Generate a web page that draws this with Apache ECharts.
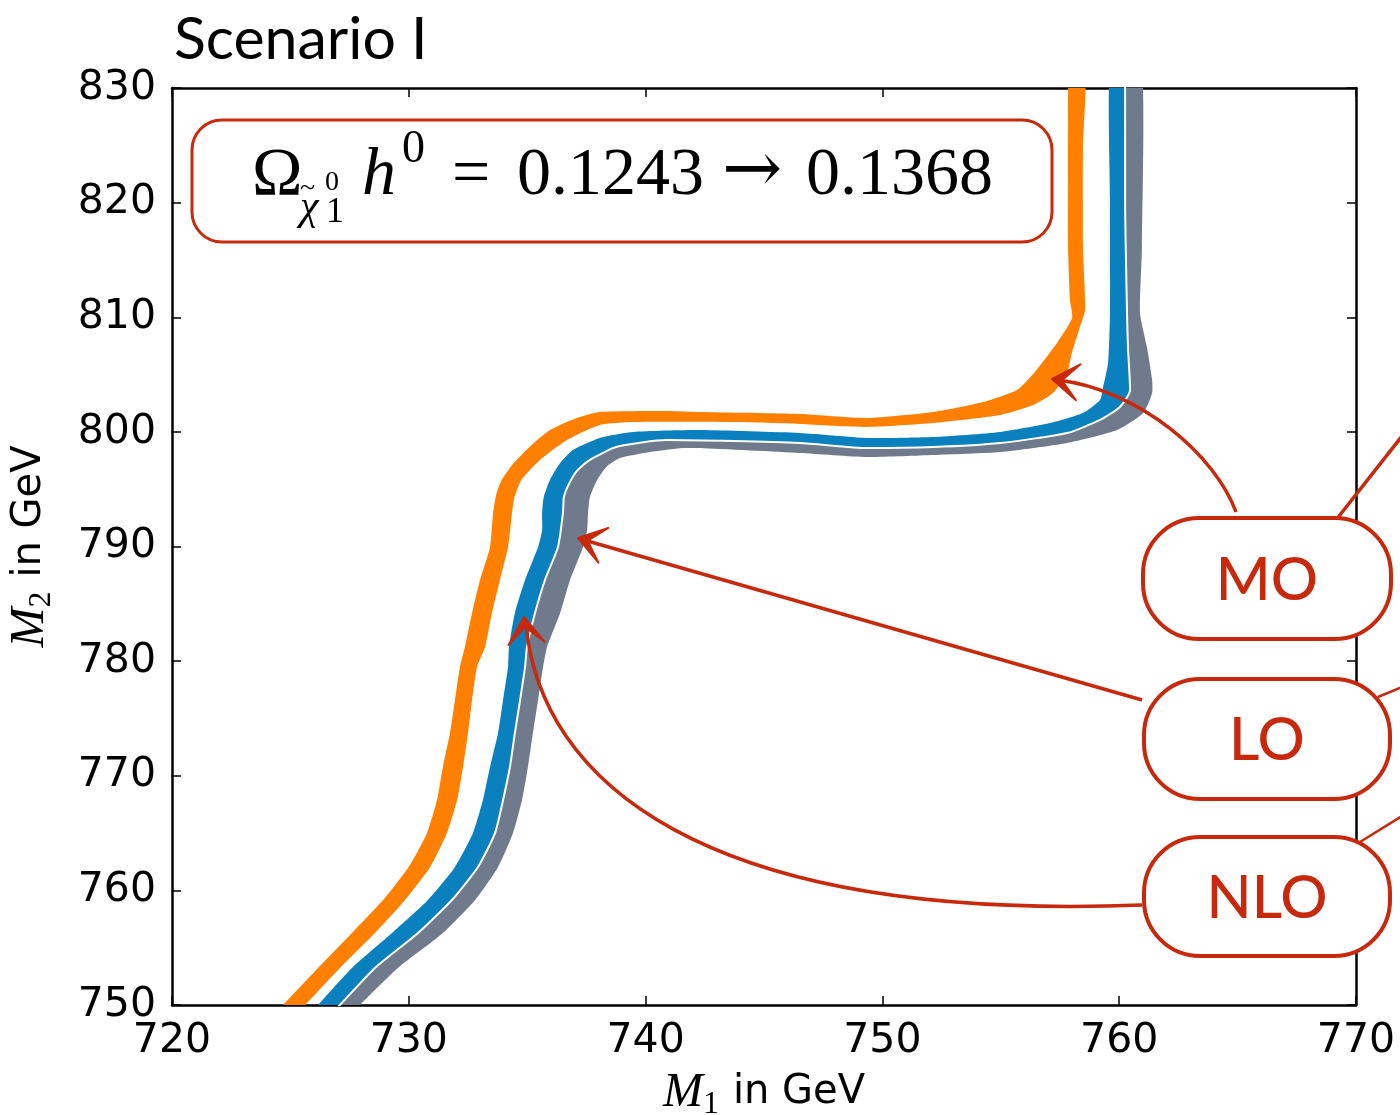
<!DOCTYPE html>
<html>
  <head>
    <meta charset="utf-8" />
    <script src="https://cdn.jsdelivr.net/npm/echarts@6/dist/echarts.min.js"></script>
  </head>
  <body style="margin: 0; background: #fff">
    <div id="container" style="width: 1400px; height: 1115px"></div>
    <script type="text/javascript">
      // band edges, [M1, M2] in GeV
      var moOuter = [
        [723.8, 748], [724.69, 750], [726.17, 753.23], [727.6, 756.28], [728.99, 759.33],
        [730.05, 762.21], [730.77, 765.0], [731.19, 767.88], [731.44, 770.76], [731.74, 773.73],
        [731.95, 776.61], [732.16, 779.49], [732.37, 781.23], [732.67, 784.2], [733.01, 787.08],
        [733.43, 789.96], [733.56, 792.92], [733.7, 794.6], [733.95, 795.9], [734.4, 797.2],
        [735.05, 798.6], [735.96, 800.16], [737.1, 801.21], [738.07, 801.73], [740.9, 801.82],
        [742.3, 801.73], [746.52, 801.56], [749.35, 801.21], [752.14, 801.73], [754.25, 802.6],
        [755.68, 803.65], [756.44, 805.22], [757.37, 807.75], [758.01, 809.93], [757.92, 811.5],
        [757.84, 816.13], [757.84, 821.97], [757.84, 826.33], [757.92, 832]
      ];
      var moInner = [
        [724.7, 748], [725.62, 750], [727.09, 753.23], [728.57, 756.28], [729.84, 759.16],
        [730.9, 762.04], [731.61, 765.0], [732.04, 767.88], [732.29, 770.76], [732.5, 773.73],
        [732.67, 776.61], [732.88, 779.49], [733.22, 781.23], [733.51, 784.2], [733.85, 787.08],
        [734.19, 789.96], [734.36, 792.92], [734.45, 794.2], [734.75, 795.8], [735.54, 797.55],
        [736.68, 799.29], [738.07, 800.6], [739.47, 800.86], [743.69, 800.86], [746.52, 800.69],
        [749.35, 800.43], [752.14, 800.77], [754.97, 801.47], [756.36, 802.34], [757.2, 803.39],
        [757.8, 805.14], [758.0, 806.88], [758.34, 809.15], [758.56, 810.63], [758.47, 816.13],
        [758.47, 824.85], [758.56, 832]
      ];
      var loOuter = [
        [725.3, 748], [726.17, 750], [727.6, 753.23], [729.29, 756.28], [730.81, 759.16],
        [731.95, 762.04], [732.71, 765.0], [733.13, 767.88], [733.43, 770.76], [733.77, 773.73],
        [733.98, 776.61], [734.19, 779.49], [734.23, 781.23], [734.48, 784.2], [734.91, 787.08],
        [735.46, 789.96], [735.63, 791.44], [735.63, 792.92], [735.7, 794.32], [735.96, 795.8],
        [736.39, 797.28], [736.93, 798.42], [738.07, 799.47], [739.47, 799.99], [742.3, 800.16],
        [746.52, 799.9], [749.35, 799.47], [752.14, 799.55], [754.97, 799.99], [757.08, 800.77],
        [758.47, 801.65], [759.19, 802.78], [759.32, 803.91], [759.53, 806.01], [759.61, 810.37],
        [759.61, 820.23], [759.61, 832]
      ];
      var loInner = [
        [726.1, 748], [727.09, 750], [728.57, 753.23], [730.39, 756.28], [731.82, 759.16],
        [732.92, 762.04], [733.64, 765.0], [733.98, 767.88], [734.27, 770.76], [734.48, 773.73],
        [734.7, 776.61], [734.91, 779.49], [734.99, 781.23], [735.33, 784.2], [735.75, 787.08],
        [736.3, 789.96], [736.51, 792.92], [736.55, 794.32], [736.75, 795.4], [737.1, 796.6],
        [737.6, 797.5], [738.79, 798.7], [740.9, 799.29], [746.52, 799.03], [749.35, 798.59],
        [752.14, 798.68], [754.97, 799.03], [757.8, 799.9], [759.19, 801.04], [760.03, 802.17],
        [760.46, 803.65], [760.37, 807.4], [760.33, 810.37], [760.25, 820.23], [760.25, 832]
      ];
      var nloOuter = [
        [727.0, 748], [727.94, 750], [729.54, 753.23], [731.44, 756.28], [732.8, 759.16],
        [733.77, 762.04], [734.4, 765.0], [734.78, 767.88], [735.03, 770.76], [735.24, 773.73],
        [735.46, 776.61], [735.67, 779.49], [735.84, 781.23], [736.39, 784.2], [736.81, 787.08],
        [737.36, 789.96], [737.53, 791.44], [737.57, 792.92], [737.65, 794.32], [737.95, 795.8],
        [738.37, 797.0], [738.92, 797.72], [740.19, 798.24], [741.58, 798.59], [742.3, 798.59],
        [746.52, 798.16], [749.35, 797.81], [752.14, 797.98], [754.97, 798.24], [757.8, 799.03],
        [759.91, 800.16], [761.01, 801.65], [761.39, 803.39], [761.39, 804.52], [761.17, 807.4],
        [760.88, 810.37], [760.96, 816.13], [760.96, 832]
      ];
      var xTicks = [720, 730, 740, 750, 760, 770];
      var yTicks = [750, 760, 770, 780, 790, 800, 810, 820, 830];
      var labels = ["MO", "LO", "NLO"];
      var omegaFrom = "0.1243";
      var omegaTo = "0.1368";

      var red = "#c8290d";
      var sansFont = "DejaVu Sans";
      var gillFont = "Lato";
      var serif = "Liberation Serif";

      var dom = document.getElementById("container");
      var myChart = echarts.init(dom);

      function bandSeries(name, outer, inner, color) {
        var ring = outer.concat(inner.slice().reverse());
        return {
          type: "custom",
          name: name,
          clip: true,
          silent: true,
          data: ring,
          encode: { x: 0, y: 1 },
          renderItem: function (params, api) {
            if (params.dataIndex !== 0) return null;
            var pts = ring.map(function (p) {
              return api.coord(p);
            });
            return {
              type: "polygon",
              shape: { points: pts, smooth: 0.2 },
              style: { fill: color, stroke: null },
            };
          },
        };
      }

      function edgeSeries(name, edge, color, width) {
        return {
          type: "line",
          name: name,
          data: edge,
          symbol: "none",
          smooth: 0.2,
          silent: true,
          lineStyle: { color: color, width: width },
          z: 5,
        };
      }

      function arrowHead(tip, from) {
        var dx = tip[0] - from[0], dy = tip[1] - from[1];
        var len = Math.sqrt(dx * dx + dy * dy);
        var bx = -dx / len, by = -dy / len;
        function rot(a, l) {
          var c = Math.cos(a), s = Math.sin(a);
          return [tip[0] + (bx * c - by * s) * l, tip[1] + (bx * s + by * c) * l];
        }
        return {
          type: "polygon",
          z: 101,
          shape: { points: [tip, rot(0.6, 32), [tip[0] + bx * 10, tip[1] + by * 10], rot(-0.6, 32)] },
          style: { fill: red, stroke: red, lineWidth: 2, lineJoin: "round" },
        };
      }

      function pill(x, y, w, h, text) {
        return [
          {
            type: "rect",
            z: 102,
            shape: { x: x, y: y, width: w, height: h, r: 56 },
            style: { fill: "#fff", stroke: red, lineWidth: 4 },
          },
          {
            type: "text",
            z: 103,
            x: x + w / 2,
            y: y + h / 2 + 2,
            style: {
              text: text,
              fill: red,
              font: "500 59px " + gillFont,
              textAlign: "center",
              textVerticalAlign: "middle",
            },
          },
        ];
      }

      function formulaText(x, y, text, font) {
        return {
          type: "text",
          z: 101,
          x: x,
          y: y,
          style: { text: text, fill: "#000", font: font, textVerticalAlign: "middle" },
        };
      }

      var graphics = [
        {
          type: "text",
          left: 174,
          top: 10,
          style: { text: "Scenario I", fill: "#000", font: "59px " + gillFont },
        },
        {
          type: "rect",
          z: 100,
          shape: { x: 192, y: 120, width: 860, height: 122, r: 30 },
          style: { fill: "#fff", stroke: red, lineWidth: 3 },
        },
        formulaText(252, 176, "Ω", "68px " + serif),
        formulaText(300, 208, "χ", "italic 42px " + serif),
        formulaText(300, 189, "~", "28px " + serif),
        formulaText(325, 183, "0", "28px " + serif),
        formulaText(326, 213, "1", "36px " + serif),
        formulaText(362, 176, "h", "italic 68px " + serif),
        formulaText(402, 150, "0", "46px " + serif),
        formulaText(452, 176, "=", "68px " + serif),
        formulaText(517, 176, omegaFrom, "68px " + serif),
        formulaText(722, 173, "→", "72px DejaVu Serif"),
        formulaText(806, 176, omegaTo, "68px " + serif),
        // arrows
        {
          type: "bezierCurve",
          z: 101,
          shape: { x1: 1236, y1: 512, cpx1: 1215, cpy1: 455, cpx2: 1140, cpy2: 390, x2: 1058, y2: 380 },
          style: { stroke: red, lineWidth: 3.5, fill: null },
        },
        arrowHead([1052, 379], [1100, 385]),
        {
          type: "line",
          z: 101,
          shape: { x1: 1142, y1: 700, x2: 584, y2: 540 },
          style: { stroke: red, lineWidth: 3.5 },
        },
        arrowHead([578, 538], [700, 573]),
        {
          type: "bezierCurve",
          z: 101,
          shape: { x1: 1142, y1: 905, cpx1: 700, cpy1: 922, cpx2: 540, cpy2: 780, x2: 526, y2: 624 },
          style: { stroke: red, lineWidth: 3.5, fill: null },
        },
        arrowHead([524, 617], [530, 680]),
        { type: "line", z: 101, shape: { x1: 1336, y1: 520, x2: 1402, y2: 436 }, style: { stroke: red, lineWidth: 3.5 } },
        { type: "line", z: 101, shape: { x1: 1378, y1: 697, x2: 1402, y2: 687 }, style: { stroke: red, lineWidth: 2.5 } },
        { type: "line", z: 101, shape: { x1: 1360, y1: 842, x2: 1402, y2: 816 }, style: { stroke: red, lineWidth: 2.5 } },
      ];
      graphics = graphics
        .concat(pill(1143, 518, 248, 121, labels[0]))
        .concat(pill(1144, 679, 246, 120, labels[1]))
        .concat(pill(1144, 837, 246, 119, labels[2]));

      var axisLabel = { fontFamily: sansFont, fontSize: 41, color: "#000" };
      var nameRich = {
        m: { fontFamily: serif, fontStyle: "italic", fontSize: 48, color: "#000" },
        s: { fontFamily: serif, fontSize: 32, color: "#000", padding: [24, 0, 0, 0] },
        t: { fontFamily: sansFont, fontSize: 40, color: "#000", padding: [0, 0, 0, 14] },
      };
      var tick = { show: true, inside: true, length: 9, lineStyle: { color: "#000", width: 1.5 } };
      var frame = { show: true, lineStyle: { color: "#000", width: 2.5 } };

      var option = {
        animation: false,
        backgroundColor: "#fff",
        grid: { left: 172, top: 88, right: 44, bottom: 110, containLabel: false, outerBoundsMode: "none" },
        xAxis: [
          {
            type: "value",
            min: xTicks[0],
            max: xTicks[xTicks.length - 1],
            interval: 10,
            position: "bottom",
            axisLine: frame,
            axisTick: tick,
            axisLabel: Object.assign({ margin: 16 }, axisLabel),
            splitLine: { show: false },
            name: "{m|M}{s|1}{t|in GeV}",
            nameLocation: "middle",
            nameGap: 60,
            nameTextStyle: { rich: nameRich },
          },
          {
            type: "value",
            min: xTicks[0],
            max: xTicks[xTicks.length - 1],
            interval: 10,
            position: "top",
            axisLine: frame,
            axisTick: tick,
            axisLabel: { show: false },
            splitLine: { show: false },
          },
        ],
        yAxis: [
          {
            type: "value",
            min: yTicks[0],
            max: yTicks[yTicks.length - 1],
            interval: 10,
            position: "left",
            axisLine: frame,
            axisTick: tick,
            axisLabel: Object.assign({ margin: 16 }, axisLabel),
            splitLine: { show: false },
            name: "{m|M}{s|2}{t|in GeV}",
            nameLocation: "middle",
            nameGap: 114,
            nameRotate: 90,
            nameTextStyle: { rich: nameRich },
          },
          {
            type: "value",
            min: yTicks[0],
            max: yTicks[yTicks.length - 1],
            interval: 10,
            position: "right",
            axisLine: frame,
            axisTick: tick,
            axisLabel: { show: false },
            splitLine: { show: false },
          },
        ],
        series: [
          bandSeries("NLO", nloOuter, loInner, "#6f7a8c"),
          bandSeries("LO", loOuter, loInner, "#0a80bf"),
          bandSeries("MO", moOuter, moInner, "#ff8000"),
          edgeSeries("LO/NLO edge", loInner, "#ffffff", 2),
        ],
        graphic: graphics,
      };

      myChart.setOption(option);
    </script>
  </body>
</html>
